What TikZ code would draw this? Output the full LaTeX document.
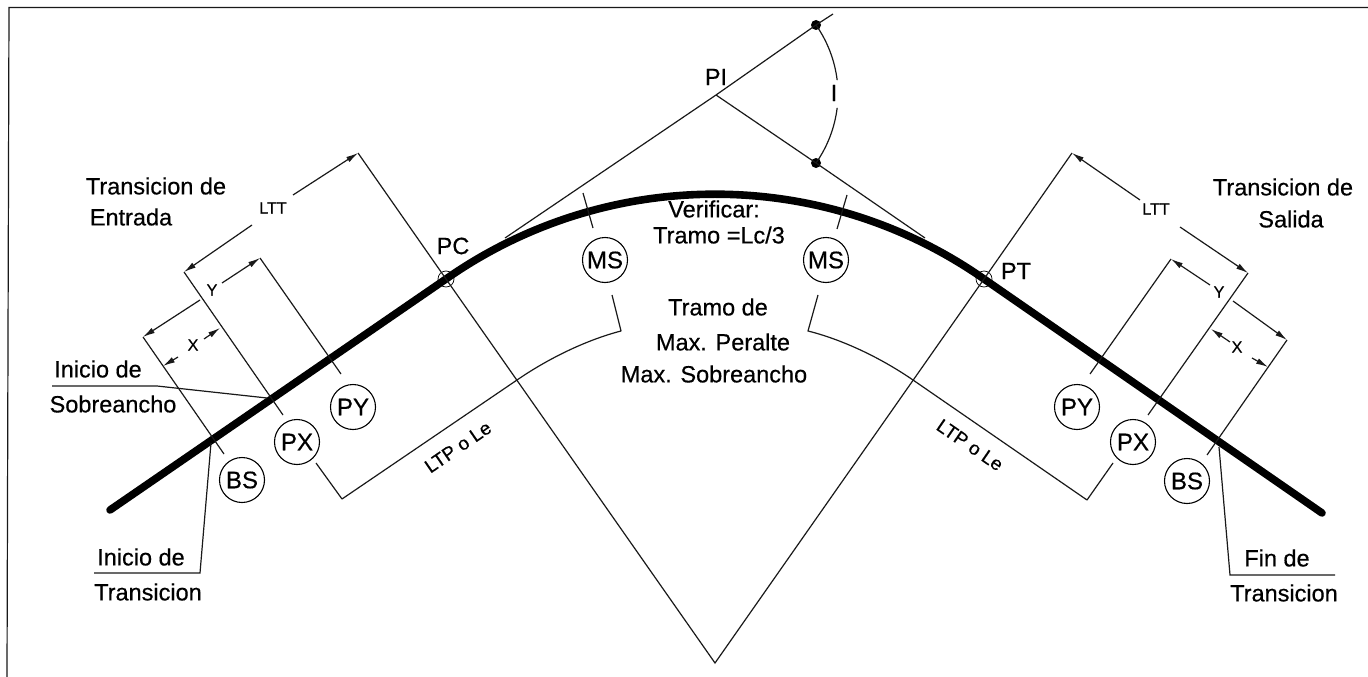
\documentclass[tikz,border=0pt]{standalone}
\usepackage{fontspec}
\setmainfont[FakeBold=0.5]{Liberation Sans}
\usetikzlibrary{arrows.meta}
\tikzset{
  thin line/.style={line width=1.2pt,black!90},
  road/.style={line width=7.6pt,black,line cap=round,line join=round},
  dim/.style={thin line,-{Latex[length=12pt,width=6pt]}},
  label text/.style={inner sep=0pt,font=\fontsize{23.5}{23.5}\selectfont,text=black},
  small text/.style={inner sep=0pt,font=\fontsize{16}{16}\selectfont,text=black},
  slant text/.style={inner sep=0pt,font=\fontsize{19}{19}\selectfont,text=black},
  station/.style={circle,draw,line width=1.1pt,minimum size=45pt,inner sep=0pt,font=\fontsize{24}{24}\selectfont},
  tick mark/.style={circle,draw,line width=.7pt,minimum size=16pt,inner sep=0pt},
  dot mark/.style={circle,fill=black,minimum size=10pt,inner sep=0pt}
}
\begin{document}
\begin{tikzpicture}[x=1pt,y=-1pt]
\useasboundingbox (0,0) rectangle (1368,677);
% frame
\coordinate (fa) at (1368,7.5); \coordinate (fb) at (9,7.5); \coordinate (fc) at (7,677);
\draw[thin line] (fa) -- (fb) -- (fc);
% key points
\coordinate (start) at (110,510);
\coordinate (finish) at (1322,513);
\coordinate (O) at (715,663);
\node[tick mark] (PCm) at (446,279) {};
\node[tick mark] (PTm) at (984,279) {};
\coordinate (PIp) at (716,95);
\node[dot mark] (D1) at (816,25) {};
\node[dot mark] (D2) at (816,163) {};
\coordinate (tanEndL) at (505,238);
\coordinate (tanEndR) at (925,238);
\coordinate (tanTip) at (833,14);
% road
\draw[road] (start) -- (PCm.center) arc[start angle=-125,end angle=-55,radius=469] -- (finish);
% tangents, deflection
\draw[thin line] (tanEndL) -- (PIp) -- (D1.center) -- (tanTip);
\draw[thin line] (PIp) -- (D2.center) -- (tanEndR);
\draw[thin line] (D1.center) arc[start angle=-35,end angle=-7,radius=122];
\draw[thin line] (D2.center) arc[start angle=35,end angle=7,radius=122];
% radials
\coordinate (ltl) at (358,153); \coordinate (ltr) at (1072,153);
\draw[thin line] (ltl) -- (PCm.center) -- (O) -- (PTm.center) -- (ltr);
% left dimension lines
\coordinate (a1) at (184,272); \coordinate (a2) at (283,415);
\coordinate (b1) at (260,258); \coordinate (b2) at (341,374);
\coordinate (c1) at (143,337); \coordinate (c2) at (224,454);
\draw[thin line] (a1) -- (a2);
\draw[thin line] (b1) -- (b2);
\draw[thin line] (c1) -- (c2);
\node[small text] (LTTl) at (273,208) {LTT};
\node[small text] (Yl) at (212,290) {Y};
\node[small text] (Xl) at (193,345) {X};
\coordinate (g1) at (293,195); \coordinate (g2) at (252,225);
\draw[dim] (g1) -- (ltl);
\draw[dim] (g2) -- (a1);
\coordinate (g3) at (222,283); \coordinate (g4) at (200,300);
\draw[dim] (g3) -- (b1);
\draw[dim] (g4) -- (c1);
\coordinate (x1) at (204,339); \coordinate (x1e) at (220,328);
\coordinate (x2) at (178,357); \coordinate (x2e) at (163,366);
\draw[dim] (x1) -- (x1e);
\draw[dim] (x2) -- (x2e);
% right dimension lines
\coordinate (d1) at (1248,273); \coordinate (d2) at (1148,415);
\coordinate (e1) at (1171,259); \coordinate (e2) at (1090,374);
\coordinate (f1) at (1287,340); \coordinate (f2) at (1207,455);
\draw[thin line] (d1) -- (d2);
\draw[thin line] (e1) -- (e2);
\draw[thin line] (f1) -- (f2);
\node[small text] (LTTr) at (1156,209) {LTT};
\node[small text] (Yr) at (1219,292) {Y};
\node[small text] (Xr) at (1237,347) {X};
\coordinate (h1) at (1140,200); \coordinate (h2) at (1180,227);
\draw[dim] (h1) -- (ltr);
\draw[dim] (h2) -- (d1);
\coordinate (h3) at (1210,285); \coordinate (h4) at (1233,301);
\draw[dim] (h3) -- (e1);
\draw[dim] (h4) -- (f1);
\coordinate (y1) at (1230,342); \coordinate (y1e) at (1211,329);
\coordinate (y2) at (1252,358); \coordinate (y2e) at (1268,367);
\draw[dim] (y1) -- (y1e);
\draw[dim] (y2) -- (y2e);
% stations
\node[station] (PYl) at (353,407) {PY};
\node[station] (PXl) at (297,442) {PX};
\node[station] (BSl) at (242,480) {BS};
\node[station] (MSl) at (605,260) {MS};
\node[station] (MSr) at (826,260) {MS};
\node[station] (PYr) at (1077,407) {PY};
\node[station] (PXr) at (1133,442) {PX};
\node[station] (BSr) at (1187,481) {BS};
% MS ticks
\coordinate (m1) at (583,193); \coordinate (m2) at (593,228);
\coordinate (m3) at (847,195); \coordinate (m4) at (837,229);
\draw[thin line] (m1) -- (m2);
\draw[thin line] (m3) -- (m4);
% LTP brackets
\coordinate (p1) at (316,463); \coordinate (p2) at (342,499); \coordinate (p3) at (517,380);
\coordinate (p4) at (621,331); \coordinate (p5) at (612,295);
\draw[thin line,line join=round] (p1) -- (p2) -- (p3) .. controls (552,356) and (590,339) .. (p4) -- (p5);
\coordinate (q1) at (1113,463); \coordinate (q2) at (1087,500); \coordinate (q3) at (913,380);
\coordinate (q4) at (808,331); \coordinate (q5) at (818,295);
\draw[thin line,line join=round] (q1) -- (q2) -- (q3) .. controls (878,356) and (840,339) .. (q4) -- (q5);
\node[slant text,rotate=34.5] (LTPl) at (458,447) {LTP o Le};
\node[slant text,rotate=-34.5] (LTPr) at (970,445) {LTP o Le};
% leaders
\coordinate (s1) at (52,386); \coordinate (s2) at (157,386); \coordinate (s3) at (267,398);
\draw[thin line] (s1) -- (s2) -- (s3);
\coordinate (t1) at (211,443); \coordinate (t2) at (200,573); \coordinate (t3) at (94,573);
\draw[thin line] (t1) -- (t2) -- (t3);
\coordinate (u1) at (1219,447); \coordinate (u2) at (1230,575); \coordinate (u3) at (1335,575);
\draw[thin line] (u1) -- (u2) -- (u3);
% labels
\node[label text] (n1) at (156,186) {Transicion de};
\node[label text] (n2) at (131,217) {Entrada};
\node[label text] (n3) at (1283,187) {Transicion de};
\node[label text] (n4) at (1291,219) {Salida};
\node[label text] (n5) at (98,369) {Inicio de};
\node[label text] (n6) at (113,404) {Sobreancho};
\node[label text] (n7) at (141,557) {Inicio de};
\node[label text] (n8) at (148,592) {Transicion};
\node[label text] (n9) at (1277,558) {Fin de};
\node[label text] (n10) at (1284,593) {Transicion};
\node[label text] (n11) at (453,246) {PC};
\node[label text] (n12) at (1016,271) {PT};
\node[label text] (n13) at (716,77) {PI};
\node[label text] (n14) at (834,93) {I};
\node[label text] (n15) at (714,209) {Verificar:};
\node[label text] (n16) at (719,235) {Tramo =Lc/3};
\node[label text] (n17) at (718,307) {Tramo de};
\node[label text] (n18) at (723,342) {Max. Peralte};
\node[label text] (n19) at (714,374) {Max. Sobreancho};
\end{tikzpicture}
\end{document}
